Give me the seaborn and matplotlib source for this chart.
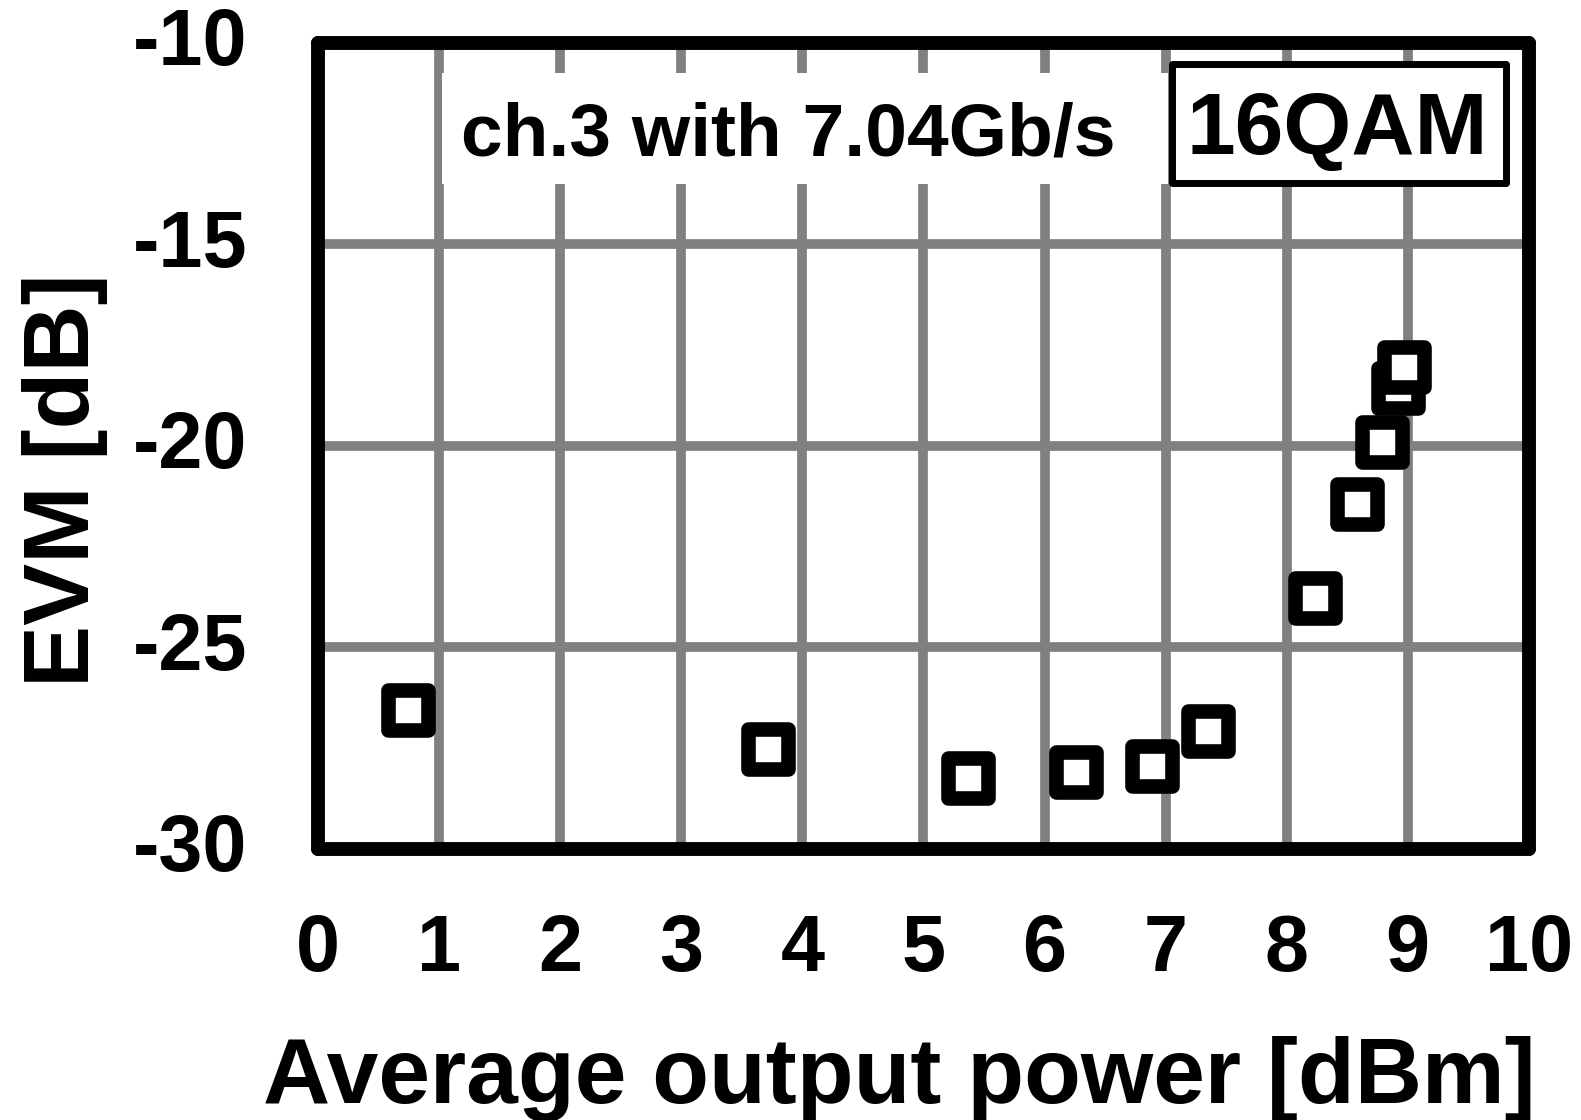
import matplotlib
matplotlib.use("Agg")
import matplotlib.pyplot as plt
from matplotlib.patches import Rectangle
from matplotlib.transforms import ScaledTranslation
import seaborn as sns
import pandas as pd

# Data
power_dbm = [0.74, 3.72, 5.37, 6.26, 6.89, 7.35, 8.23, 8.58, 8.79, 8.92, 8.97]
evm_db = [-26.54, -27.53, -28.25, -28.08, -27.95, -27.08, -23.78, -21.43, -19.90, -18.55, -18.03]
x_ticks = [0, 1, 2, 3, 4, 5, 6, 7, 8, 9, 10]
y_ticks = [-30, -25, -20, -15, -10]
annotation = "ch.3 with 7.04Gb/s"
modulation = "16QAM"
x_label = "Average output power [dBm]"
y_label = "EVM [dB]"

df = pd.DataFrame({"power": power_dbm, "evm": evm_db})

sns.set_theme(style="white")
plt.rcParams["font.family"] = ["Liberation Sans", "DejaVu Sans"]
plt.rcParams["font.weight"] = "bold"

fig = plt.figure(figsize=(15.81, 11.20), dpi=100)
ax = fig.add_axes([0.2012, 0.2420, 0.7658, 0.7196])

sns.scatterplot(data=df, x="power", y="evm", ax=ax, marker="s", s=800,
                facecolor="white", edgecolor="black", linewidth=10.5,
                zorder=5, legend=False)
for coll in ax.collections:
    coll.set_joinstyle("round")

ax.set_xlim(0, 10)
ax.set_ylim(-30, -10)
ax.set_xticks(x_ticks)
ax.set_yticks(y_ticks)
ax.set_xticklabels([str(t) for t in x_ticks])
ax.set_yticklabels([str(t) for t in y_ticks])

ax.grid(True, color="#808080", linewidth=7, zorder=0)
ax.set_axisbelow(True)

for sp in ax.spines.values():
    sp.set_visible(True)
    sp.set_color("black")
    sp.set_linewidth(10)
    sp.set_capstyle("round")
    sp.set_zorder(10)

ax.tick_params(axis="both", length=0, labelsize=57, colors="black")
ax.tick_params(axis="x", pad=46)
ax.tick_params(axis="y", pad=51)
shift_up = ScaledTranslation(0, 5 / 72, fig.dpi_scale_trans)
for lab in ax.get_yticklabels():
    lab.set_transform(lab.get_transform() + shift_up)
for lab in ax.get_xticklabels() + ax.get_yticklabels():
    lab.set_fontweight("bold")

ax.set_xlabel(x_label, fontsize=67, fontweight="bold", color="black")
ax.set_ylabel(y_label, fontsize=67, fontweight="bold", color="black")
ax.xaxis.label.set_va("baseline")
ax.yaxis.label.set_va("baseline")
ax.xaxis.set_label_coords(0.480, -0.315)
ax.yaxis.set_label_coords((89 - 318) / 1211, (849 - 480) / 806)

# White box behind the annotation text (hides grid lines)
ax.add_patch(Rectangle((0.102, 0.8254), 0.600, 0.1372, transform=ax.transAxes,
                       facecolor="white", edgecolor="none", zorder=2))
ax.text(0.388, 0.860, annotation, transform=ax.transAxes, ha="center",
        va="baseline", fontsize=54, fontweight="bold", color="black", zorder=3)

# Bordered box for modulation label
ax.add_patch(Rectangle((0.705, 0.8267), 0.276, 0.1471, transform=ax.transAxes,
                       facecolor="white", edgecolor="black", linewidth=5,
                       joinstyle="round", zorder=3))
ax.text(0.842, 0.862, modulation, transform=ax.transAxes, ha="center",
        va="baseline", fontsize=63, fontweight="bold", color="black", zorder=4)

fig.savefig("out.png", dpi=100, facecolor="white")
